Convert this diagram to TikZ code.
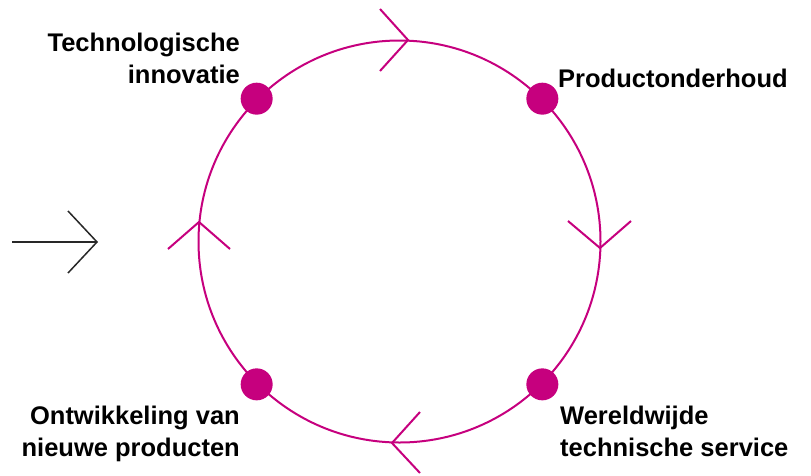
\documentclass[tikz,border=0pt]{standalone}
\usepackage{fontspec}
\setmainfont{Liberation Sans}
\definecolor{mag}{RGB}{198,0,126}
\definecolor{ink}{RGB}{40,40,40}
\begin{document}
\begin{tikzpicture}[x=1pt,y=-1pt,
  ringstyle/.style={draw=mag,line width=2pt,circle,minimum size=402pt,inner sep=0pt},
  dotstyle/.style={circle,fill=mag,minimum size=32pt,inner sep=0pt},
  chev/.style={draw=mag,line width=2pt,line join=miter},
  lab/.style={font=\fontsize{25.5}{32}\selectfont\bfseries,inner sep=0pt,text=black}]
\useasboundingbox (0,0) rectangle (811,475);
\node[ringstyle] (ring) at (399.5,241.5) {};
\node[dotstyle] (d1) at (ring.135) {};
\node[dotstyle] (d2) at (ring.45) {};
\node[dotstyle] (d3) at (ring.-45) {};
\node[dotstyle] (d4) at (ring.-135) {};
% direction chevrons
\draw[chev] (380,9) -- (408,40) -- (380,71);
\draw[chev] (568,221) -- (600,248) -- (631,221);
\draw[chev] (420,412) -- (392,443) -- (420,473);
\draw[chev] (168,249) -- (199,222) -- (230,249);
% input arrow
\coordinate (ain) at (12,242);
\coordinate (aout) at (97,242);
\draw[ink,line width=1.5pt] (ain) -- (aout);
\draw[ink,line width=1.5pt] (68,211) -- (aout) -- (68,273);
% labels (base anchor = baseline of last line)
\node[lab,anchor=base east,align=right] (t1) at (240,83) {Technologische\\innovatie};
\node[lab,anchor=base west] (t2) at (558,87) {Productonderhoud};
\node[lab,anchor=base west,align=left] (t3) at (560,456) {Wereldwijde\\technische service};
\node[lab,anchor=base east,align=right] (t4) at (240,456) {Ontwikkeling van\\nieuwe producten};
\end{tikzpicture}
\end{document}
